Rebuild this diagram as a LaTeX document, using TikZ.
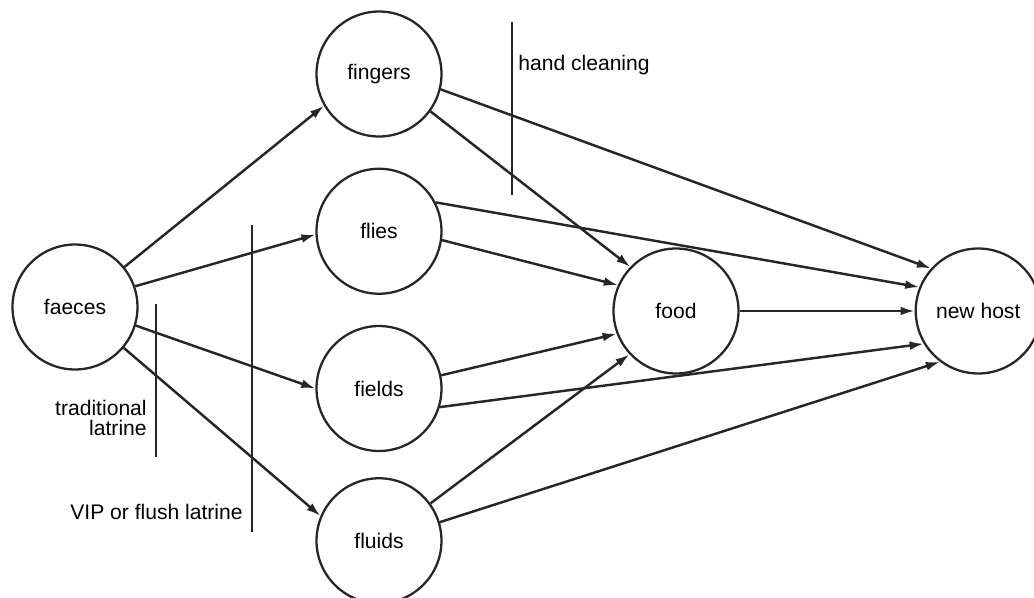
\documentclass[tikz,border=0pt]{standalone}
\usepackage{fontspec}
\setsansfont{Liberation Sans}
\usetikzlibrary{arrows.meta,positioning}

\begin{document}
\begin{tikzpicture}
    [x=0.02cm, y=-0.02cm, font=\sffamily\fontsize{12}{14}\selectfont,
    % STYLES
    % The place style is used to draw the circles of the transmission routes
    place/.style={circle, draw=black!85, line width=1.3pt, minimum size=2.5cm, inner sep=0pt},
    % The route style is used to draw the arrows between the places
    route/.style={-{Latex[length=8pt,width=5pt]}, black!85, line width=1.4pt},
    % The barrier style is used to draw the vertical lines
    barrier/.style={draw=black!85, line width=1.3pt},
    % The note style is used to write the barriers' names
    note/.style={inner sep=0pt, align=right, font=\sffamily\fontsize{12}{11.5}\selectfont}]

    \useasboundingbox (0,0) rectangle (1034,598);

    % Draw places
    \node [place] (fingers) at (379,74) {fingers};
    \node [place, below=0.6cm of fingers] (flies) {flies};
    \node [place, below=0.6cm of flies] (fields) {fields};
    \node [place, below=0.5cm of fields] (fluids) {fluids};
    \node [place] (faeces) at (75,307) {faeces};
    \node [place] (food) at (676,311) {food};
    \node [place, right=3.5cm of food] (host) {new host};

    % Draw barriers
    \draw [barrier] (512,22) -- (512,195);
    \node [note, anchor=west] (hand) at (518,65) {hand cleaning};
    \draw [barrier] (156,304) -- (156,457);
    \node [note, anchor=east] (trad) at (147,418) {traditional\\latrine};
    \draw [barrier] (252,225) -- (252,532);
    \node [note, anchor=east] (vip) at (243,512) {VIP or flush latrine};

    \path[route]
    (faeces.39) edge (fingers.210)
    (faeces.19) edge (flies.183)
    (faeces.-17) edge (fields.180)
    (faeces.-40) edge (fluids.157)
    (fingers.-14) edge (host.138)
    (fingers.-36) edge (food.136)
    (flies.27) edge (host.158)
    (flies.-8) edge (food.156)
    (fields.12) edge (food.201)
    (fields.-17) edge (host.211)
    (fluids.36) edge (food.223)
    (fluids.17) edge (host.233)
    (food) edge (host);
\end{tikzpicture}
\end{document}
